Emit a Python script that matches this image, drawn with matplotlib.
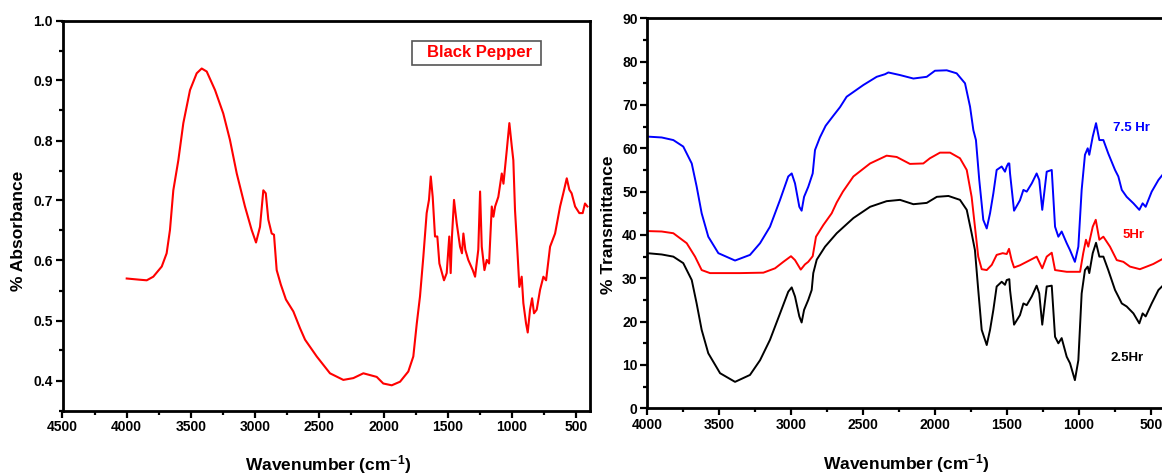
import matplotlib
matplotlib.use("Agg")
import matplotlib.pyplot as plt
from matplotlib.ticker import MultipleLocator, FormatStrFormatter
from matplotlib.patches import Rectangle

plt.rcParams['font.family'] = ['Liberation Sans', 'DejaVu Sans']
plt.rcParams['font.weight'] = 'bold'
plt.rcParams['mathtext.fontset'] = 'custom'
plt.rcParams['mathtext.rm'] = 'Liberation Sans:bold'
plt.rcParams['mathtext.bf'] = 'Liberation Sans:bold'
plt.rcParams['mathtext.default'] = 'bf'

# Black pepper absorbance spectrum (left panel).
wn_bp = [4000, 3900, 3844, 3793, 3727, 3689, 3663, 3637, 3598, 3559, 3507, 3455, 3416, 3377,
         3312, 3248, 3196, 3143, 3079, 3027, 2993, 2962, 2936, 2917, 2897, 2871, 2853, 2832,
         2800, 2760, 2702, 2650, 2611, 2520, 2417, 2313, 2235, 2157, 2053, 2002, 1936, 1871,
         1807, 1768, 1741, 1716, 1690, 1664, 1646, 1632, 1617, 1599, 1581, 1565, 1529, 1508,
         1488, 1477, 1467, 1451, 1430, 1404, 1389, 1378, 1363, 1340, 1305, 1287, 1262, 1248,
         1235, 1214, 1196, 1178, 1157, 1144, 1131, 1106, 1079, 1066, 1040, 1020, 1001, 989,
         976, 958, 942, 924, 911, 890, 877, 859, 843, 828, 807, 781, 755, 734, 703, 664, 625,
         600, 573, 553, 535, 508, 475, 449, 431, 412]
abs_bp = [0.570, 0.568, 0.567, 0.573, 0.590, 0.612, 0.651, 0.717, 0.767, 0.829, 0.884, 0.912,
          0.920, 0.915, 0.884, 0.845, 0.801, 0.745, 0.690, 0.651, 0.630, 0.656, 0.717, 0.712,
          0.668, 0.645, 0.643, 0.584, 0.560, 0.535, 0.515, 0.487, 0.468, 0.440, 0.412, 0.401,
          0.404, 0.412, 0.406, 0.395, 0.392, 0.398, 0.415, 0.440, 0.495, 0.540, 0.606, 0.679,
          0.701, 0.740, 0.706, 0.640, 0.640, 0.595, 0.567, 0.579, 0.640, 0.579, 0.640, 0.701,
          0.662, 0.623, 0.612, 0.645, 0.618, 0.601, 0.584, 0.573, 0.618, 0.715, 0.623, 0.584,
          0.601, 0.595, 0.690, 0.673, 0.690, 0.706, 0.745, 0.728, 0.784, 0.829, 0.790, 0.767,
          0.684, 0.618, 0.556, 0.573, 0.529, 0.495, 0.480, 0.518, 0.537, 0.512, 0.518, 0.551,
          0.573, 0.567, 0.623, 0.645, 0.690, 0.712, 0.737, 0.718, 0.712, 0.690, 0.679, 0.679,
          0.695, 0.690]

# Transmittance spectra (right panel).
wn_75 = [4000, 3900, 3819, 3750, 3691, 3657, 3622, 3576, 3506, 3390, 3286, 3216, 3147, 3077,
         3020, 2996, 2973, 2943, 2927, 2910, 2881, 2857, 2850, 2834, 2800, 2760, 2707, 2660,
         2614, 2498, 2405, 2347, 2324, 2243, 2150, 2057, 2000, 1918, 1849, 1791, 1756, 1733,
         1715, 1692, 1664, 1640, 1617, 1594, 1571, 1536, 1513, 1501, 1490, 1483, 1478, 1450,
         1409, 1385, 1362, 1327, 1293, 1275, 1254, 1223, 1188, 1165, 1142, 1119, 1084, 1061,
         1027, 1003, 980, 957, 938, 927, 903, 880, 857, 829, 795, 748, 725, 701, 667, 620,
         579, 556, 535, 493, 446, 410]
t_75 = [62.7, 62.5, 61.9, 60.4, 56.5, 51.2, 45.0, 39.6, 35.8, 34.1, 35.4, 38.1, 41.9, 48.1,
        53.5, 54.2, 51.9, 46.5, 45.6, 48.8, 51.1, 53.5, 54.2, 59.6, 62.5, 65.2, 67.5, 69.5,
        71.9, 74.6, 76.5, 77.1, 77.5, 76.9, 76.1, 76.5, 77.9, 78.0, 77.3, 75.0, 69.6, 64.2,
        61.9, 52.7, 43.5, 41.5, 45.0, 49.6, 55.0, 55.8, 54.6, 55.8, 56.5, 56.5, 54.2, 45.6,
        48.0, 50.4, 50.0, 51.9, 54.2, 52.7, 45.8, 54.6, 55.0, 41.9, 39.6, 40.8, 38.1, 36.5,
        33.8, 37.3, 50.4, 58.5, 60.0, 58.5, 62.7, 65.8, 61.9, 61.9, 58.8, 55.0, 53.5, 50.4,
        48.8, 47.3, 45.8, 47.3, 46.5, 50.0, 52.7, 54.2]

wn_5 = [4000, 3900, 3819, 3726, 3668, 3622, 3564, 3355, 3193, 3112, 3054, 3001, 2973, 2933,
        2904, 2881, 2850, 2827, 2776, 2718, 2683, 2640, 2567, 2451, 2336, 2266, 2174, 2081,
        2035, 1965, 1895, 1826, 1779, 1745, 1722, 1699, 1675, 1640, 1605, 1571, 1529, 1501,
        1485, 1467, 1450, 1409, 1339, 1293, 1254, 1223, 1188, 1165, 1084, 991, 969, 950, 934,
        903, 882, 857, 829, 783, 736, 690, 644, 575, 528, 482, 410]
t_5 = [40.9, 40.8, 40.4, 38.1, 35.0, 31.9, 31.2, 31.2, 31.3, 32.3, 33.8, 35.1, 34.2, 32.0,
       33.2, 33.8, 35.1, 39.6, 42.3, 45.0, 47.5, 50.0, 53.5, 56.5, 58.3, 58.0, 56.4, 56.5,
       57.7, 59.0, 59.0, 57.7, 55.0, 48.8, 41.9, 35.0, 32.1, 31.9, 33.1, 35.4, 35.8, 35.6,
       36.8, 34.2, 32.5, 33.0, 34.2, 35.0, 32.3, 35.0, 35.9, 31.9, 31.5, 31.5, 35.8, 38.9,
       37.3, 41.9, 43.5, 38.9, 39.6, 37.3, 34.2, 33.8, 32.7, 32.1, 32.7, 33.3, 34.6]

wn_25 = [4000, 3900, 3819, 3750, 3691, 3657, 3622, 3576, 3494, 3390, 3286, 3216, 3147, 3077,
         3020, 2996, 2973, 2943, 2927, 2910, 2881, 2857, 2846, 2822, 2764, 2683, 2567, 2451,
         2336, 2243, 2150, 2057, 1987, 1906, 1826, 1779, 1745, 1722, 1699, 1675, 1640, 1617,
         1594, 1571, 1536, 1513, 1501, 1483, 1478, 1450, 1409, 1385, 1362, 1327, 1293, 1275,
         1254, 1223, 1188, 1165, 1142, 1119, 1084, 1061, 1027, 1003, 980, 957, 938, 927, 903,
         880, 857, 829, 795, 748, 725, 701, 667, 620, 579, 556, 535, 493, 446, 410]
t_25 = [35.8, 35.5, 35.0, 33.5, 29.6, 24.2, 18.1, 12.7, 8.1, 6.1, 7.7, 11.1, 15.8, 21.9,
        26.9, 27.9, 25.8, 21.2, 19.8, 22.7, 25.0, 27.3, 31.2, 34.3, 37.3, 40.4, 43.9, 46.5,
        47.8, 48.1, 47.1, 47.4, 48.8, 49.0, 48.1, 45.8, 40.4, 36.5, 27.3, 18.1, 14.6, 18.1,
        22.7, 28.1, 29.2, 28.5, 29.6, 29.8, 27.3, 19.3, 21.5, 24.2, 23.8, 25.8, 28.3, 26.5,
        19.3, 28.1, 28.3, 16.5, 15.0, 16.2, 11.9, 10.4, 6.5, 11.1, 26.5, 31.9, 32.7, 31.2,
        35.8, 38.2, 35.0, 35.0, 31.9, 27.3, 25.8, 24.2, 23.5, 21.9, 19.6, 21.9, 21.2, 24.2,
        27.3, 28.5]

W, H = 1162, 475
fig = plt.figure(figsize=(W / 100, H / 100), dpi=100)

def px_axes(x0, x1, y0, y1):
    return fig.add_axes([x0 / W, 1 - y1 / H, (x1 - x0) / W, (y1 - y0) / H])

def style(ax):
    for s in ax.spines.values():
        s.set_linewidth(2.0)
    ax.tick_params(which='major', direction='out', length=5, width=1.6, labelsize=10,
                   top=False, right=False, pad=2)
    ax.tick_params(which='minor', direction='out', length=3, width=1.6, top=False, right=False)

# ---- left panel
ax1 = px_axes(62.5, 590, 20.5, 410.5)
ax1.plot(wn_bp, abs_bp, color='#ff0000', lw=1.5)
ax1.set_xlim(4500, 392)
ax1.set_ylim(0.35, 1.0)
ax1.xaxis.set_major_locator(MultipleLocator(500))
ax1.xaxis.set_minor_locator(MultipleLocator(250))
ax1.yaxis.set_major_locator(MultipleLocator(0.1))
ax1.yaxis.set_minor_locator(MultipleLocator(0.05))
ax1.yaxis.set_major_formatter(FormatStrFormatter('%.1f'))
style(ax1)
ax1.set_xlabel('Wavenumber (cm$^{-1}$)', fontsize=12.5, fontweight='bold')
ax1.set_ylabel('% Absorbance', fontsize=12.5, fontweight='bold')
ax1.xaxis.set_label_coords(0.503, -0.11)
ax1.yaxis.set_label_coords(-0.069, 0.46)
ax1.add_patch(Rectangle((0.6626, 0.886), 0.2445, 0.062, transform=ax1.transAxes,
                        fill=False, edgecolor='#555555', lw=1.2))
ax1.text(0.79, 0.917, 'Black Pepper', transform=ax1.transAxes, color='#ff0000',
         fontsize=12, fontweight='bold', ha='center', va='center')

# ---- right panel
ax2 = px_axes(647.3, 1175, 18.3, 408.3)
ax2.plot(wn_75, t_75, color='#0000ff', lw=1.4)
ax2.plot(wn_5, t_5, color='#ff0000', lw=1.4)
ax2.plot(wn_25, t_25, color='#000000', lw=1.4)
ax2.set_xlim(4000, 331)
ax2.set_ylim(0, 90)
ax2.xaxis.set_major_locator(MultipleLocator(500))
ax2.xaxis.set_minor_locator(MultipleLocator(250))
ax2.yaxis.set_major_locator(MultipleLocator(10))
ax2.yaxis.set_minor_locator(MultipleLocator(5))
style(ax2)
ax2.spines['right'].set_visible(False)
ax2.set_xlabel('Wavenumber (cm$^{-1}$)', fontsize=12.5, fontweight='bold')
ax2.set_ylabel('% Transmittance', fontsize=12.5, fontweight='bold')
ax2.xaxis.set_label_coords(0.49, -0.113)
ax2.yaxis.set_label_coords(-0.059, 0.47)
ax2.text(637, 64.7, '7.5 Hr', color='#0000ff', fontsize=9.5, fontweight='bold',
         ha='center', va='center')
ax2.text(616, 40.0, '5Hr', color='#ff0000', fontsize=9.5, fontweight='bold',
         ha='center', va='center')
ax2.text(665, 11.6, '2.5Hr', color='#000000', fontsize=9.5, fontweight='bold',
         ha='center', va='center')

fig.savefig('out.png', dpi=100)
